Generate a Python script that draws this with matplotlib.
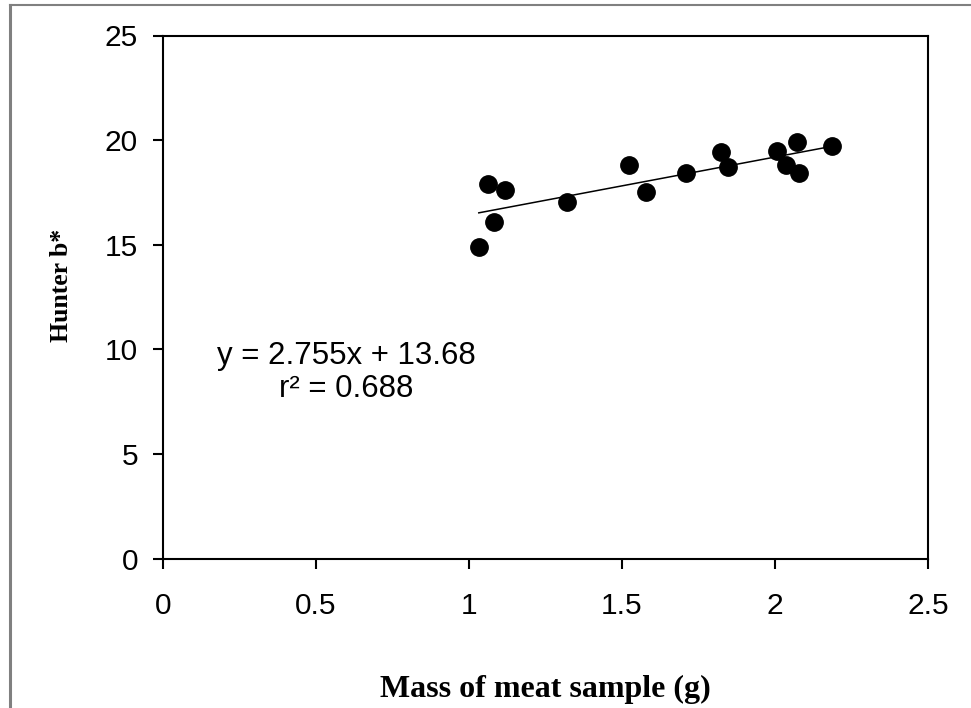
import numpy as np
import matplotlib
matplotlib.use('Agg')
import matplotlib.pyplot as plt
from matplotlib.lines import Line2D

# Dados
massa = [1.032, 1.061, 1.082, 1.117, 1.321, 1.523, 1.580, 1.710,
         1.825, 1.848, 2.006, 2.036, 2.071, 2.078, 2.186]
hunter_b = [14.90, 17.90, 16.09, 17.60, 17.06, 18.82, 17.50, 18.41,
            19.43, 18.70, 19.49, 18.81, 19.89, 18.44, 19.73]

# Coeficientes da reta de ajuste (do rótulo)
inclinacao = 2.755
intercepto = 13.68
r2 = 0.688

xticks = [0, 0.5, 1, 1.5, 2, 2.5]
xtick_labels = ['0', '0.5', '1', '1.5', '2', '2.5']
yticks = [0, 5, 10, 15, 20, 25]

plt.rcParams['font.family'] = ['Liberation Sans', 'DejaVu Sans']

fig = plt.figure(figsize=(9.71, 7.08), dpi=100)
ax = fig.add_axes([163 / 971, 1 - 558.5 / 708, 765 / 971, 523 / 708])

ax.plot(massa, hunter_b, 'o', color='black', markersize=12.5)

# Reta de ajuste entre o menor e o maior x
xr = np.array([min(massa), max(massa)])
ax.plot(xr, inclinacao * xr + intercepto, color='black', linewidth=1.1)

ax.set_xlim(0, 2.5)
ax.set_ylim(0, 25)
ax.set_xticks(xticks)
ax.set_xticklabels(xtick_labels)
ax.set_yticks(yticks)

for s in ax.spines.values():
    s.set_linewidth(1.5)
ax.tick_params(axis='both', direction='out', length=7, width=1.5,
               labelsize=21.5, colors='black')
ax.tick_params(axis='x', pad=17)
ax.tick_params(axis='y', pad=11)

ax.text(0.60, 8.9, 'y = %.3fx + %.2f\nr² = %.3f' % (inclinacao, intercepto, r2),
        ha='center', va='center', fontsize=22.5, linespacing=1.15)

# Rótulos dos eixos
fig.text(545 / 971, 1 - 689 / 708, 'Mass of meat sample (g)',
         ha='center', va='center', fontsize=23, fontweight='bold',
         family='Liberation Serif')
fig.text(62 / 971, 1 - 285 / 708, 'Hunter b*', rotation=90,
         ha='center', va='center', fontsize=18.5, fontweight='bold',
         family='Liberation Serif')

# Moldura cinza (topo e esquerda)
fig.add_artist(Line2D([10 / 971, 10 / 971], [0, 1 - 5 / 708],
                      transform=fig.transFigure, color='#808080', linewidth=2.2))
fig.add_artist(Line2D([10 / 971, 1], [1 - 5 / 708, 1 - 5 / 708],
                      transform=fig.transFigure, color='#808080', linewidth=1.5))

plt.savefig('out.png', dpi=100)
